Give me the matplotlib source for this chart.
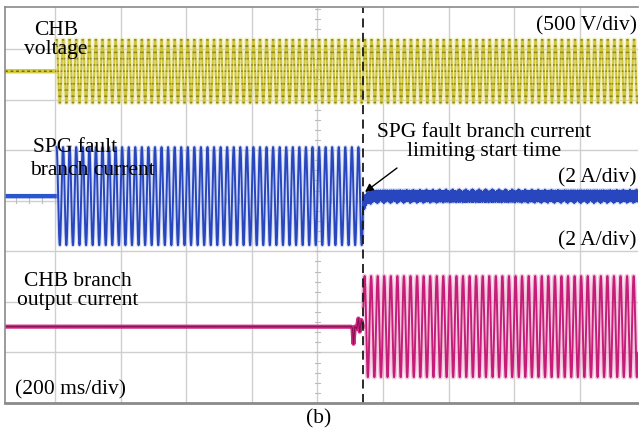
import numpy as np
import matplotlib.pyplot as plt

plt.rcParams['font.family'] = ['Liberation Serif', 'DejaVu Serif']

# scope settings
ms_per_div = 200
f_line = 50.0                 # Hz
t_left, t_right = -152, 1777  # visible window, ms

# event times (ms)
t_start = 5        # CHB energised, fault current flowing
t_limit = 940      # fault branch current limiting starts

# trace centre / peak amplitude, in divisions
chb_v_offset, chb_v_amp = 6.56, 0.62    # ~310 V peak at 500 V/div
spg_offset, spg_amp = 4.09, 0.97        # ~1.9 A peak at 2 A/div
chb_i_offset, chb_i_amp = 1.51, 1.00    # ~2 A peak at 2 A/div
chb_levels = 5                          # voltage steps per half-wave

# residual ripple on the limited fault current: (harmonic order, amplitude in div)
spg_ripple = [(3, 0.02), (7, 0.02), (11, 0.015), (29, 0.02), (53, 0.025),
              (71, 0.02), (97, 0.025), (113, 0.02), (151, 0.02), (199, 0.015)]

# switching glitch on the CHB current just before it takes over (ms, div)
glitch_t = [903, 907, 910, 914, 920, 925, 929, 934, 938]
glitch_y = [0.0, -0.03, -0.34, 0.0, -0.04, 0.16, -0.10, 0.13, 0.0]

t = np.linspace(t_left, t_right, 30000)
w = 2 * np.pi * f_line * t / 1000.0

# CHB voltage: multilevel staircase sine
sw = np.round(np.sin(w) * chb_levels) / chb_levels
chb_v = np.where(t < t_start, 0.0, chb_v_amp * sw) + chb_v_offset

# SPG fault branch current: full sine, then limited to a small ripple
ripple = sum(a * np.sin(k * w + 0.7 * k) for k, a in spg_ripple)
dip = -0.16 * np.exp(-np.clip(t - t_limit, 0, None) / 10.0)
spg = np.where(t < t_start, 0.0,
               np.where(t < t_limit, spg_amp * np.sin(w), ripple + dip)) + spg_offset

# CHB branch output current
chb_i = np.interp(t, glitch_t, glitch_y, left=0.0, right=0.0)
chb_i = np.where(t < t_limit, chb_i, chb_i_amp * np.sin(w + 0.4)) + chb_i_offset

fig = plt.figure(figsize=(6.39, 4.32), dpi=100)
ax = fig.add_axes([5 / 639, 29 / 432, 633 / 639, 396 / 432])
to_div = 1.0 / ms_per_div
x = t * to_div

# graticule
ax.set_xlim(t_left * to_div, t_right * to_div)
ax.set_ylim(0, 7.83)
ax.set_xticks(np.arange(0, 9))
ax.set_yticks(np.arange(1, 8))
ax.grid(True, color='#cfcfcf', lw=1.0)
ax.tick_params(length=0, labelbottom=False, labelleft=False)
for k in np.arange(-3.8, 8.9, 0.2):
    ax.plot([k, k], [3.95, 4.05], color='#bdbdbd', lw=0.8)
for k in np.arange(0.2, 7.83, 0.2):
    ax.plot([3.96, 4.04], [k, k], color='#bdbdbd', lw=0.8)
for side in ['left', 'top', 'bottom']:
    ax.spines[side].set_color('#8a8a8a')
ax.spines['left'].set_linewidth(1.2)
ax.spines['top'].set_linewidth(1.2)
ax.spines['bottom'].set_linewidth(2.0)
ax.spines['right'].set_visible(False)

# traces: a pale wide stroke under each one gives the phosphor-like tint
pre = t < t_start
ax.plot(x[pre], chb_v[pre], color='#d4cc3a', lw=3.2)
ax.plot(x[pre], chb_v[pre], color='#6a6412', lw=1.0, ls=(0, (2, 2)))
ax.plot(x[~pre], chb_v[~pre], color='#e6e08a', lw=3.5, alpha=0.5)
ax.plot(x[~pre], chb_v[~pre], color='#cfc53a', lw=1.4)
flat = np.where(np.abs(np.gradient(chb_v)) < 1e-9, chb_v, np.nan)
flat[pre] = np.nan
ax.plot(x, flat, color='#7a7418', lw=1.1, alpha=0.8)

ax.plot(x[pre], spg[pre], color='#2b56d0', lw=3.2)
ax.plot(x[~pre], spg[~pre], color='#9aaee6', lw=3.0, alpha=0.4)
ax.plot(x[~pre], spg[~pre], color='#2846bd', lw=1.4)

before = t < t_limit
ax.plot(x[before], chb_i[before], color='#d02a86', lw=3.0)
ax.plot(x[before], chb_i[before], color='#8a0f50', lw=0.8)
ax.plot(x[~before], chb_i[~before], color='#e79cc4', lw=3.5, alpha=0.5)
ax.plot(x[~before], chb_i[~before], color='#c61e78', lw=1.4)

ax.axvline(t_limit * to_div, color='#1a1a1a', lw=1.3, ls=(0, (5, 3)))

# labels, positioned in pixel terms of the 639x432 canvas
def fpos(px, py):
    return px / 639, 1 - py / 432

fs = 15.5
fig.text(*fpos(56, 40), 'CHB\nvoltage', ha='center', va='center', fontsize=fs, linespacing=0.95)
fig.text(*fpos(637, 26), '(500 V/div)', ha='right', va='center', fontsize=fs)
fig.text(*fpos(33, 148), 'SPG fault', ha='left', va='center', fontsize=fs)
fig.text(*fpos(30, 170), 'branch current', ha='left', va='center', fontsize=fs)
fig.text(*fpos(484, 142), 'SPG fault branch current\nlimiting start time',
         ha='center', va='center', fontsize=fs, linespacing=0.95)
fig.text(*fpos(637, 178), '(2 A/div)', ha='right', va='center', fontsize=fs)
fig.text(*fpos(637, 241), '(2 A/div)', ha='right', va='center', fontsize=fs)
fig.text(*fpos(78, 291), 'CHB branch\noutput current', ha='center', va='center',
         fontsize=fs, linespacing=0.95)
fig.text(*fpos(15, 390), '(200 ms/div)', ha='left', va='center', fontsize=fs)
fig.text(*fpos(319, 419), '(b)', ha='center', va='center', fontsize=fs)

ax.annotate('', xy=fpos(365, 192), xycoords='figure fraction',
            xytext=fpos(397, 168), textcoords='figure fraction',
            arrowprops=dict(arrowstyle='-|>', color='black', lw=1.0,
                            mutation_scale=12, shrinkA=0, shrinkB=0))

fig.savefig('out.png', dpi=100)
